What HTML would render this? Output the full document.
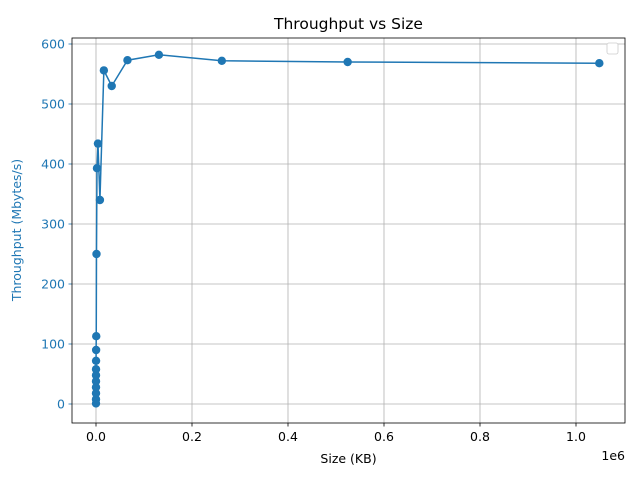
<!DOCTYPE html>
<html><head><meta charset="utf-8"><style>
body{margin:0;background:#fff}
svg text{font-family:"DejaVu Sans","Liberation Sans",sans-serif}
</style></head><body>
<svg id="c" width="640" height="480" xmlns="http://www.w3.org/2000/svg"></svg>
<script>
const sizes=[1,2,4,8,16,32,64,128,256,512,1024,2048,4096,8192,16384,32768,65536,131072,262144,524288,1048576];
const throughput=[1,8,18,28,38,48,58,72,90,113,250,393,434,340,556,530,573,582,572,570,568];
const xTicks=[0,0.2e6,0.4e6,0.6e6,0.8e6,1.0e6];
const xTickLabels=["0.0","0.2","0.4","0.6","0.8","1.0"];
const yTicks=[0,100,200,300,400,500,600];
const svg=document.getElementById('c');
const NS='http://www.w3.org/2000/svg';
const L=72,R=625,T=38,B=423;
const sx=v=>96+v*480/1e6;
const sy=v=>404-v*0.6;
function mk(t,a,p){const e=document.createElementNS(NS,t);for(const k in a)e.setAttribute(k,a[k]);(p||svg).appendChild(e);return e;}
const grid=mk('g',{});


xTicks.forEach((v,i)=>{
 const x=sx(v);
 mk('line',{x1:x,x2:x,y1:T,y2:B,stroke:'#b0b0b0','stroke-width':0.8},grid);
 mk('line',{x1:x,x2:x,y1:B,y2:B+3.5,stroke:'#000','stroke-width':0.8});
 const t=mk('text',{x:x,y:B+18,'text-anchor':'middle','font-size':12.5});
 
 
 t.textContent=xTickLabels[i];
});
yTicks.forEach(v=>{
 const y=sy(v);
 mk('line',{x1:L,x2:R,y1:y,y2:y,stroke:'#b0b0b0','stroke-width':0.8},grid);
 mk('line',{x1:L-3.5,x2:L,y1:y,y2:y,stroke:'#1f77b4','stroke-width':0.8});
 const t=mk('text',{x:L-7,y:y+4.5,'text-anchor':'end','font-size':12.5,fill:'#1f77b4'});
 
 
 t.textContent=v;
});
const fr=mk('rect',{x:L,y:T,width:R-L,height:B-T,fill:'none',stroke:'#000','stroke-width':0.8});


const pts=sizes.map((s,i)=>sx(s)+','+sy(throughput[i])).join(' ');
const line=mk('polyline',{points:pts,fill:'none',stroke:'#1f77b4','stroke-width':1.5});


sizes.forEach((s,i)=>{
 const c=mk('circle',{cx:sx(s),cy:sy(throughput[i]),r:4.2,fill:'#1f77b4'});
 
 
});
const lg=mk('rect',{x:607,y:43,width:11,height:11,rx:2,fill:'#fff',stroke:'#ccc','stroke-width':0.8});


let t=mk('text',{x:348.5,y:29,'text-anchor':'middle','font-size':15.5});


t.textContent='Throughput vs Size';
t=mk('text',{x:348.5,y:463,'text-anchor':'middle','font-size':12.5});


t.textContent='Size (KB)';
t=mk('text',{x:21,y:230,'text-anchor':'middle','font-size':12.5,fill:'#1f77b4',transform:'rotate(-90 21 230)'});


t.textContent='Throughput (Mbytes/s)';
t=mk('text',{x:625,y:460,'text-anchor':'end','font-size':12.5});


t.textContent='1e6';
</script>
</body></html>
